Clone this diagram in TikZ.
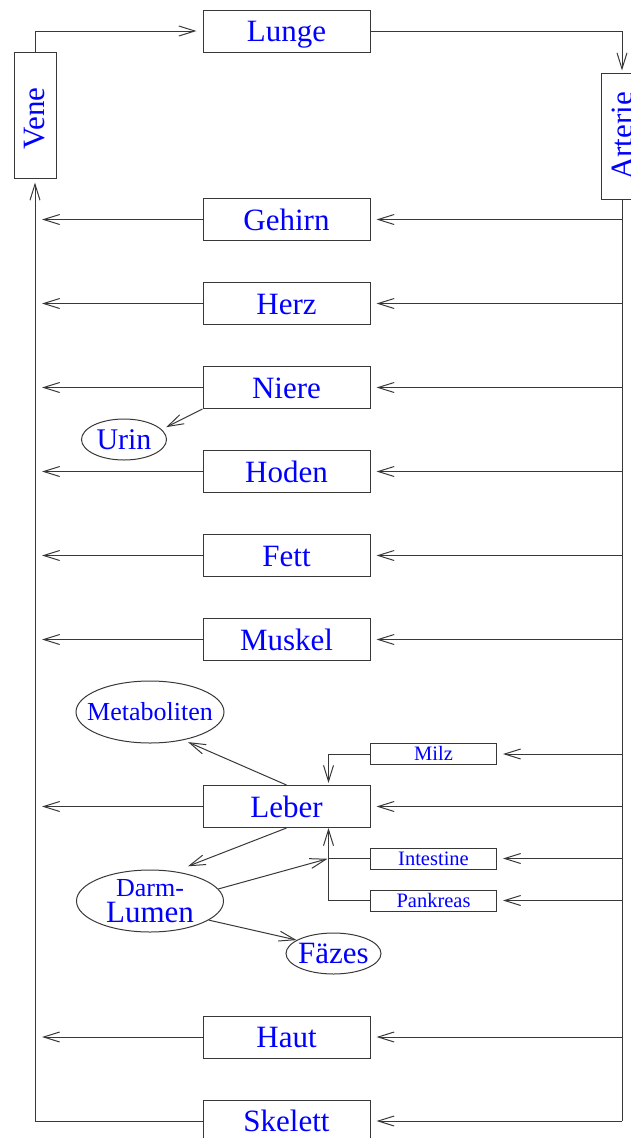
\documentclass[tikz,border=0pt]{standalone}
\usepackage{fontspec}
\setmainfont{Liberation Serif}
\usepackage{graphicx}
\usetikzlibrary{arrows.meta,shapes.geometric}
\newcommand\fbig{\fontsize{31}{31}\selectfont}
\newcommand\fmid{\fontsize{26}{26}\selectfont}
\newcommand\fsml{\fontsize{20.5}{20.5}\selectfont}
\definecolor{lc}{gray}{0.22}
\definecolor{tc}{rgb}{0,0,1}
\begin{document}
\begin{tikzpicture}[x=1pt,y=-1pt,
  organ/.style={draw=lc, line width=1pt, rectangle, minimum width=167pt, minimum height=42pt, inner sep=0pt, text=tc, font=\fbig, text height=21pt, text depth=0pt},
  vbox/.style={draw=lc, line width=1pt, rectangle, minimum width=42pt, minimum height=126pt, inner sep=0pt, text=tc, font=\fbig},
  sbox/.style={draw=lc, line width=1pt, rectangle, minimum width=126pt, minimum height=21pt, inner sep=0pt, text=tc, font=\fsml, text height=13pt, text depth=0pt},
  oval/.style={draw=lc, line width=1pt, ellipse, inner sep=0pt, text=tc},
  arr/.style={draw=lc, line width=1pt, -{Straight Barb[length=16pt,width=10pt,line width=1pt]}},
  ln/.style={draw=lc, line width=1pt}]
\useasboundingbox (0,0) rectangle (631,1138);
% main column
\node[vbox] (Vene) at (35,115) {\rotatebox{90}{\hspace*{-7pt}Vene}};
\node[vbox] (Arterie) at (622,136) {\rotatebox{90}{Arterie}};
\node[organ] (Lunge) at (286.5,31) {Lunge};
\node[organ] (Gehirn) at (286.5,219.5) {Gehirn};
\node[organ] (Herz) at (286.5,303.5) {Herz};
\node[organ] (Niere) at (286.5,387.5) {Niere};
\node[organ] (Hoden) at (286.5,471.5) {Hoden};
\node[organ] (Fett) at (286.5,555.5) {Fett};
\node[organ] (Muskel) at (286.5,639.5) {Muskel};
\node[organ] (Leber) at (286.5,806.5) {Leber};
\node[organ] (Haut) at (286.5,1037) {Haut};
\node[organ] (Skelett) at (286.5,1121) {Skelett};
% small boxes
\node[sbox] (Milz) at (433.5,754) {Milz};
\node[sbox] (Intestine) at (433.5,858.5) {Intestine};
\node[sbox] (Pankreas) at (433.5,900.5) {Pankreas};
% ellipses
\node[oval, minimum width=85pt, minimum height=41pt, font=\fontsize{30}{30}\selectfont] (Urin) at (124,439.5) {\makebox[0pt]{Urin}};
\node[oval, minimum width=148pt, minimum height=62pt, font=\fmid] (Meta) at (150,712) {\makebox[0pt]{Metaboliten}};
\node[oval, minimum width=147pt, minimum height=62pt, align=center, font={\fontsize{31}{26}\selectfont}] (Darm) at (150,901) {{\fmid Darm-}\\Lumen};
\node[oval, minimum width=95pt, minimum height=41pt, font=\fbig] (Faez) at (333.5,953.5) {\makebox[0pt]{Fäzes}};
\coordinate (lx) at (328.5,806.5);
% circulation
\draw[arr, shorten >=6pt] (Vene.north) |- (Lunge.west);
\draw[arr, shorten >=2pt] (Lunge.east) -| (Arterie.north);
\draw[ln] (Arterie.south) -- (Arterie.south |- Skelett.east);
\draw[arr, shorten >=4pt] (Skelett.west) -| (Vene.south);
\foreach \o in {Gehirn,Herz,Niere,Hoden,Fett,Muskel,Leber,Haut}{
  \draw[arr, shorten >=7pt] (\o.west) -- (\o.west -| Vene.south);
}
\foreach \o in {Gehirn,Herz,Niere,Hoden,Fett,Muskel,Leber,Haut,Skelett,Milz,Intestine,Pankreas}{
  \draw[arr, shorten >=6pt] (\o.east -| Arterie.south) -- (\o.east);
}
% liver region
\draw[arr, shorten >=2pt] (Milz.west) -| (lx |- Leber.north);
\draw[ln] (Intestine.west) -- (Intestine.west -| lx);
\draw[arr] (Pankreas.west) -| (lx |- Leber.south);
\draw[arr, shorten >=5pt] (Leber.north) -- (Meta.-40);
\draw[arr, shorten >=14pt] (Leber.south) -- (Darm.50);
\draw[arr, shorten >=1pt] (Darm.10) -- (Intestine.west -| lx);
\draw[arr] (Darm.-18) -- (Faez.160);
\draw[arr, shorten >=5pt] (Niere.south west) -- (Urin.15);
\end{tikzpicture}
\end{document}
